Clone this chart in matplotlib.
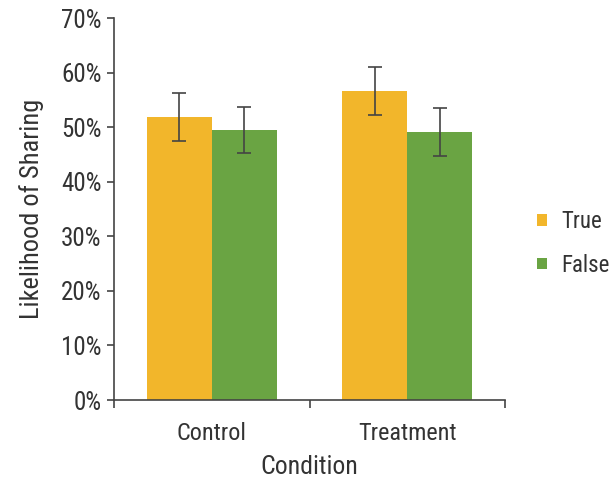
import matplotlib.pyplot as plt
import numpy as np
from matplotlib.ticker import FixedLocator, FuncFormatter
from matplotlib import font_manager

# Datos: probabilidad de compartir (%) por condición
condiciones = ['Control', 'Treatment']
verdaderas = [51.8, 56.6]
falsas = [49.4, 49.1]
err_verdaderas = [4.4, 4.4]
err_falsas = [4.2, 4.4]

# Fuente condensada si está disponible
nombres = set(f.name for f in font_manager.fontManager.ttflist)
preferidas = ['Nimbus Sans Narrow', 'Liberation Sans Narrow', 'Arial Narrow', 'Roboto Condensed',
              'PT Sans Narrow', 'Archivo Narrow', 'Open Sans Condensed', 'DejaVu Sans']
fuente = next(f for f in preferidas if f in nombres)
plt.rcParams['font.family'] = [fuente, 'DejaVu Sans']

color_v = '#F2B62B'
color_f = '#6AA443'
gris = '#444444'
texto = '#333333'

fig = plt.figure(figsize=(6.09, 4.79), dpi=100)
ax = fig.add_axes([114/609, 1 - 400/479, (505-114)/609, (400-18)/479])

x = np.arange(len(condiciones))
ancho = 1/3
ax.bar(x - ancho/2, verdaderas, ancho, color=color_v, label='True',
       yerr=err_verdaderas, error_kw=dict(ecolor=gris, elinewidth=1.2, capsize=5, capthick=1.2))
ax.bar(x + ancho/2, falsas, ancho, color=color_f, label='False',
       yerr=err_falsas, error_kw=dict(ecolor=gris, elinewidth=1.2, capsize=5, capthick=1.2))

ax.set_xlim(-0.5, 1.5)
ax.set_ylim(0, 70)
ax.set_yticks(np.arange(0, 71, 10))
ax.yaxis.set_major_formatter(FuncFormatter(lambda v, p: f'{v:.0f}%'))

# ticks de separación en el eje x, etiquetas centradas en cada grupo
ax.xaxis.set_major_locator(FixedLocator([-0.5, 0.5, 1.5]))
ax.set_xticklabels([])
ax.set_xticks(x, minor=True)
ax.set_xticklabels(condiciones, minor=True)
ax.tick_params(axis='x', which='minor', length=0, labelsize=17.5, pad=16, colors=texto)
ax.tick_params(axis='x', which='major', length=6, width=1.2, color=gris)
ax.tick_params(axis='y', length=5, width=1.2, color=gris, labelsize=18, labelcolor=texto, pad=4)

for lado in ['top', 'right']:
    ax.spines[lado].set_visible(False)
for lado in ['left', 'bottom']:
    ax.spines[lado].set_color(gris)
    ax.spines[lado].set_linewidth(1.2)

ax.set_xlabel('Condition', fontsize=18.5, color=texto, labelpad=7)
ax.set_ylabel('Likelihood of Sharing', fontsize=19, color=texto, labelpad=12)

ax.legend(loc='center left', bbox_to_anchor=(1.03, 0.41), frameon=False, fontsize=16.5,
          handlelength=0.4, handleheight=0.4, handletextpad=0.65, labelspacing=0.9,
          labelcolor=texto)

plt.savefig('out.png', dpi=100)
